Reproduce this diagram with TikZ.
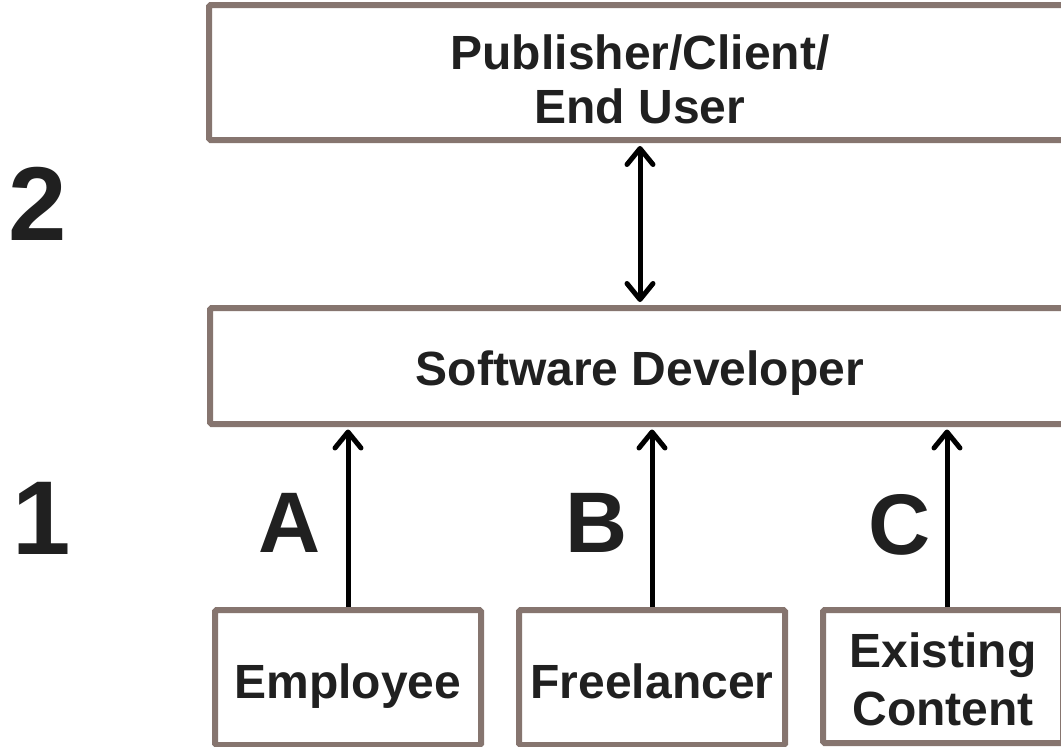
\documentclass[tikz,border=0pt]{standalone}
\usepackage{fontspec}
\setmainfont{Liberation Sans}
\usetikzlibrary{arrows.meta}
\definecolor{boxline}{RGB}{134,117,111}
\definecolor{ink}{RGB}{32,32,32}
\begin{document}
\begin{tikzpicture}[x=1pt,y=-1pt,
  box/.style={draw=boxline, line width=6pt, fill=white, inner sep=0pt, rounded corners=1.5pt},
  txt/.style={text=ink, font=\fontsize{48}{54}\selectfont\bfseries, inner sep=0pt, align=center},
  level/.style={text=ink, font=\fontsize{105}{110}\selectfont\bfseries, inner sep=0pt, anchor=base},
  route/.style={text=ink, font=\fontsize{86}{90}\selectfont\bfseries, inner sep=0pt, anchor=base},
  barb/.tip={Straight Barb[length=16pt,width=26pt,round]},
  link/.style={line width=5pt, draw=black, -barb, shorten >=2.5pt}]
\useasboundingbox (0,0) rectangle (1061,747);
\clip (0,0) rectangle (1061,747);

% boxes
\node[box, minimum width=862pt, minimum height=135pt] (pub) at (640,72.5) {};
\node[box, minimum width=860pt, minimum height=116pt] (dev) at (640,366) {};
\node[box, minimum width=266pt, minimum height=135pt] (emp) at (348,677.5) {};
\node[box, minimum width=266pt, minimum height=135pt] (free) at (652,677.5) {};
\node[box, minimum width=240pt, minimum height=133pt] (exist) at (943,676.5) {};

% box texts
\node[txt] (pubtext) at (640,79) {Publisher/Client/\\End User};
\node[txt, anchor=base] (devtext) at (640,385) {Software Developer};
\node[txt, anchor=base] (emptext) at (348,698) {Employee};
\node[txt, anchor=base] (freetext) at (652,698) {Freelancer};
\node[txt, anchor=base] (existtext) at (943,667) {Existing};
\node[txt, anchor=base] (contenttext) at (943,725) {Content};

% level numbers and route letters
\node[level] (two) at (37.5,240) {2};
\node[level] (one) at (42,554) {1};
\node[route] (la) at (290,552) {A};
\node[route] (lb) at (597,552) {B};
\node[route] (lc) at (900,554) {C};

% connectors
\draw[link, barb-barb, shorten <=3pt, shorten >=3pt] (pub.south) -- (dev.north);
\draw[link] (emp.north) -- (emp.north |- dev.south);
\draw[link] (free.north) -- (free.north |- dev.south);
\draw[link] ([xshift=4pt]exist.north) -- ([xshift=4pt]exist.north |- dev.south);
\end{tikzpicture}
\end{document}
